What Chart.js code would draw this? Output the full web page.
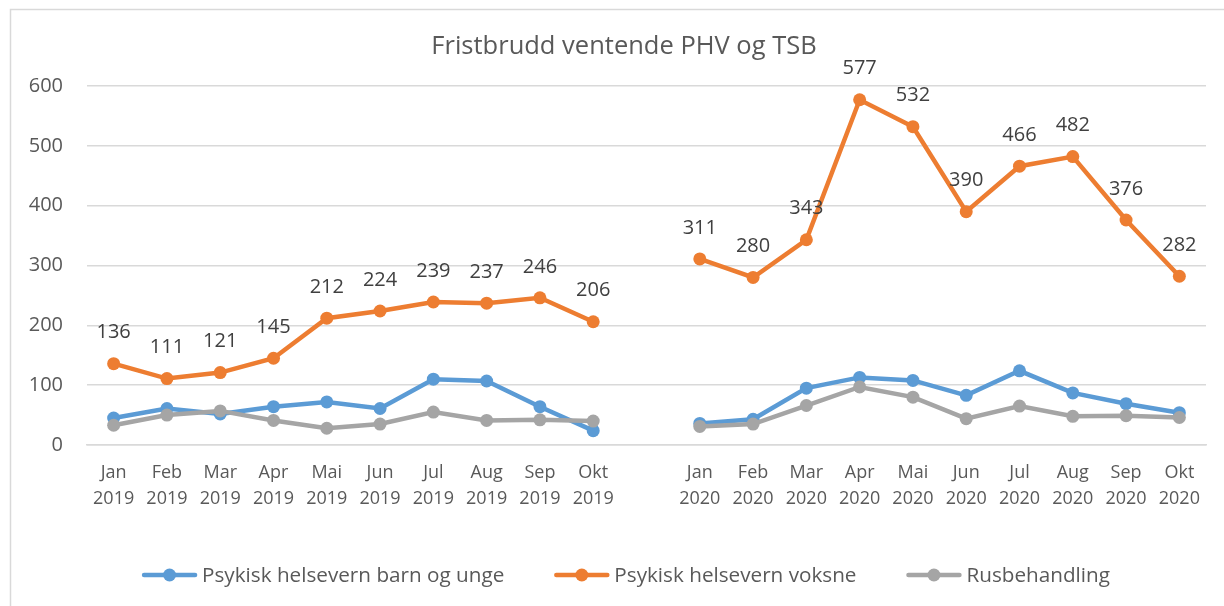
<!DOCTYPE html>
<html>
<head>
<meta charset="utf-8">
<script src="https://cdn.jsdelivr.net/npm/chart.js@4/dist/chart.umd.min.js"></script>
<style>
html,body{margin:0;padding:0;background:#fff;}
#wrap{width:1224px;height:606px;position:relative;}
</style>
</head>
<body>
<div id="wrap"><canvas id="c" width="1224" height="606"></canvas></div>
<script>
const months = ["Jan","Feb","Mar","Apr","Mai","Jun","Jul","Aug","Sep","Okt"];
const years = ["2019","2020"];
const barn2019 = [45,61,52,64,72,61,110,107,64,24];
const barn2020 = [36,43,95,113,108,83,124,87,69,54];
const voksne2019 = [136,111,121,145,212,224,239,237,246,206];
const voksne2020 = [311,280,343,577,532,390,466,482,376,282];
const rus2019 = [33,50,57,41,28,35,55,41,42,40];
const rus2020 = [31,35,66,97,80,44,65,48,49,46];
const seriesNames = ["Psykisk helsevern barn og unge","Psykisk helsevern voksne","Rusbehandling"];
const title = "Fristbrudd ventende PHV og TSB";
const yTicks = [0,100,200,300,400,500,600];

const labels = [...months.map(m=>[m,years[0]]), "", ...months.map(m=>[m,years[1]])];
const join = (a,b)=>[...a, null, ...b];

const FONT = "'Open Sans', sans-serif";
const TXT = "#595959";
const colors = ["#5B9BD5","#ED7D31","#A5A5A5"];

const borderPlugin = {
  id:'frame',
  afterDraw(chart){
    const ctx = chart.ctx;
    ctx.save();
    ctx.strokeStyle = '#d9d9d9';
    ctx.lineWidth = 1.5;
    ctx.beginPath();
    ctx.moveTo(10.5, chart.height);
    ctx.lineTo(10.5, 9.5);
    ctx.lineTo(chart.width, 9.5);
    ctx.stroke();
    ctx.restore();
  }
};

const titlePlugin = {
  id:'titleText',
  afterDraw(chart){
    const ctx = chart.ctx;
    ctx.save();
    ctx.font = "25.5px " + FONT;
    ctx.fillStyle = TXT;
    ctx.textAlign = "center";
    ctx.textBaseline = "middle";
    ctx.fillText(title, 624, 47);
    ctx.restore();
  }
};

const labelPlugin = {
  id:'vlabels',
  afterDatasetsDraw(chart){
    const ctx = chart.ctx;
    const meta = chart.getDatasetMeta(1);
    const ds = chart.data.datasets[1];
    ctx.save();
    ctx.font = "20px " + FONT;
    ctx.fillStyle = "#404040";
    ctx.textAlign = "center";
    ctx.textBaseline = "middle";
    meta.data.forEach((p,i)=>{
      const v = ds.data[i];
      if (v === null || v === undefined) return;
      ctx.fillText(String(v), p.x, p.y - 31);
    });
    ctx.restore();
  }
};

const legendPlugin = {
  id:'customLegend',
  afterDraw(chart){
    const ctx = chart.ctx;
    ctx.save();
    ctx.font = "20.7px " + FONT;
    ctx.textBaseline = "middle";
    const lineLen = 55, gapText = 5, gapItem = 50;
    const items = chart.data.datasets.map(d=>({text:d.label, color:d.borderColor}));
    let total = 0;
    items.forEach((it,i)=>{ it.w = ctx.measureText(it.text).width; total += lineLen + gapText + it.w + (i<items.length-1?gapItem:0); });
    let x = 626 - total/2;
    const y = 575;
    items.forEach(it=>{
      ctx.strokeStyle = it.color; ctx.lineWidth = 4.5; ctx.lineCap='round';
      ctx.beginPath(); ctx.moveTo(x+2,y); ctx.lineTo(x+lineLen-2,y); ctx.stroke();
      ctx.fillStyle = it.color;
      ctx.beginPath(); ctx.arc(x+lineLen/2,y,6.5,0,Math.PI*2); ctx.fill();
      ctx.fillStyle = TXT; ctx.textAlign='left';
      ctx.fillText(it.text, x+lineLen+gapText, y+1);
      x += lineLen + gapText + it.w + gapItem;
    });
    ctx.restore();
  }
};

const mk = (i, a, b, order) => ({
  label: seriesNames[i],
  data: join(a,b),
  borderColor: colors[i],
  backgroundColor: colors[i],
  pointBackgroundColor: colors[i],
  pointBorderColor: colors[i],
  borderWidth: 4.5,
  pointRadius: 6.5,
  pointHoverRadius: 6.5,
  pointBorderWidth: 0,
  tension: 0,
  spanGaps: false,
  order: order
});

new Chart(document.getElementById('c'), {
  type:'line',
  data:{
    labels: labels,
    datasets:[
      mk(0, barn2019, barn2020, 3),
      mk(1, voksne2019, voksne2020, 2),
      mk(2, rus2019, rus2020, 1)
    ]
  },
  options:{
    responsive:false,
    animation:false,
    layout:{padding:{left:0,right:18,top:86,bottom:0}},
    plugins:{
      legend:{display:false},
      tooltip:{enabled:false},
      title:{display:false}
    },
    scales:{
      x:{
        offset:true,
        grid:{display:false, drawTicks:false, offset:true},
        border:{display:true, color:'#d9d9d9', width:1.5},
        ticks:{autoSkip:false, maxRotation:0, minRotation:0, color:TXT, padding:15, font:{family:FONT, size:18, lineHeight:1.45}},
        afterFit(s){ s.height = 161; }
      },
      y:{
        min:0, max:600,
        grid:{color:'#d9d9d9', lineWidth:1.5, drawTicks:false},
        border:{display:false},
        ticks:{stepSize:100, color:TXT, padding:24, font:{family:FONT, size:20},
          callback:(v)=> yTicks.includes(v) ? String(v) : ''},
        afterFit(s){ s.width = 87; }
      }
    }
  },
  plugins:[borderPlugin, titlePlugin, labelPlugin, legendPlugin]
});
</script>
</body>
</html>
